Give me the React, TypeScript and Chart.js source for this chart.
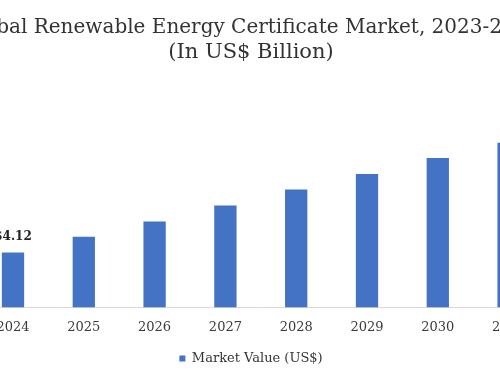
import React, { useEffect, useRef } from "react";
import { Chart, registerables } from "chart.js";

Chart.register(...registerables);

const years = ["2023", "2024", "2025", "2026", "2027", "2028", "2029", "2030", "2031", "2032"];
const marketValues = [3.0, 4.12, 5.3, 6.45, 7.66, 8.86, 10.02, 11.22, 12.38, 13.6];
const labeledYears = ["2024"];
const titleText = "Global Renewable Energy Certificate Market, 2023-2032";
const subtitleText = "(In US$ Billion)";
const seriesName = "Market Value (US$)";

const FONT = "'DejaVu Serif', Georgia, serif";
const BAR = "#4472C4";

const valueLabelPlugin = {
  id: "valueLabels",
  afterDatasetsDraw(chart: any) {
    const { ctx } = chart;
    const meta = chart.getDatasetMeta(0);
    ctx.save();
    ctx.font = `bold 12px ${FONT}`;
    ctx.fillStyle = "#222";
    ctx.textAlign = "center";
    ctx.textBaseline = "bottom";
    meta.data.forEach((bar: any, i: number) => {
      if (!labeledYears.includes(years[i])) return;
      ctx.fillText("$" + marketValues[i].toFixed(2), bar.x, bar.y - 10);
    });
    ctx.restore();
  },
};

export default function App() {
  const ref = useRef<HTMLCanvasElement>(null);
  useEffect(() => {
    if (!ref.current) return;
    const chart = new Chart(ref.current, {
      type: "bar",
      data: {
        labels: years,
        datasets: [
          {
            label: seriesName,
            data: marketValues,
            backgroundColor: BAR,
            borderWidth: 0,
            barPercentage: 0.63,
            categoryPercentage: 0.5,
          },
        ],
      },
      options: {
        responsive: false,
        animation: false,
        layout: { padding: { left: 7.2, right: 7.2, top: 0, bottom: 8 } },
        plugins: {
          title: {
            display: true,
            text: titleText,
            color: "#333",
            font: { family: FONT, size: 20, weight: "normal", lineHeight: 1.2 },
            padding: { top: 16, bottom: 0 },
          },
          subtitle: {
            display: true,
            text: subtitleText,
            color: "#333",
            font: { family: FONT, size: 21, weight: "normal", lineHeight: 1.15 },
            padding: { top: 0, bottom: 17 },
          },
          legend: {
            position: "bottom",
            labels: {
              boxWidth: 6,
              boxHeight: 6,
              padding: 5,
              color: "#333",
              font: { family: FONT, size: 13 },
            },
          },
          tooltip: { enabled: false },
        },
        scales: {
          x: {
            grid: { display: false, drawTicks: false },
            border: { display: true, color: "#d9d9d9", width: 1 },
            ticks: { color: "#3a3a3a", font: { family: FONT, size: 13 }, padding: 12 },
          },
          y: {
            display: true,
            min: 0,
            max: 17,
            grid: { display: false, drawTicks: false },
            border: { display: false },
            ticks: { display: false },
            afterFit: (scale: any) => {
              scale.width = 19.6;
            },
          },
        },
      },
      plugins: [valueLabelPlugin],
    });
    return () => chart.destroy();
  }, []);

  return (
    <div
      style={{
        position: "fixed",
        left: 0,
        top: 0,
        width: 500,
        height: 383,
        overflow: "hidden",
        background: "#fff",
      }}
    >
      <div style={{ position: "absolute", left: -120, top: 0, width: 742, height: 383 }}>
        <canvas ref={ref} width={742} height={383} style={{ display: "block" }} />
      </div>
    </div>
  );
}
